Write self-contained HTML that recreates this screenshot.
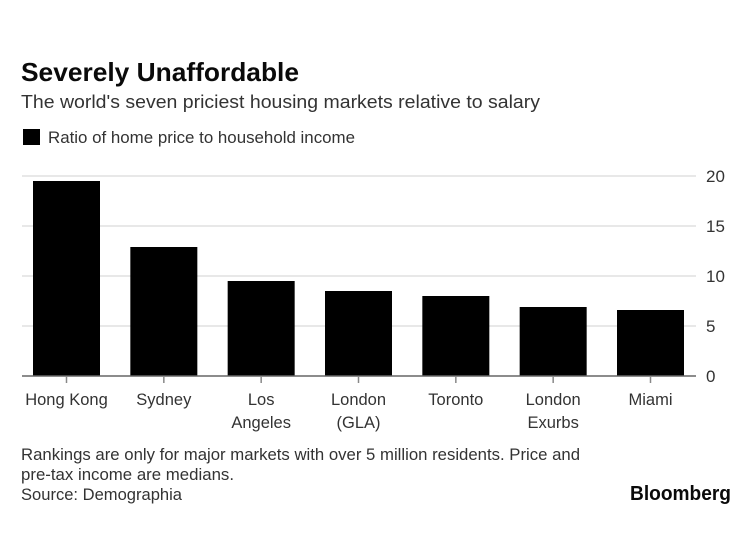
<!DOCTYPE html>
<html>
<head>
<meta charset="utf-8">
<style>
html,body{margin:0;padding:0;background:#fff;width:750px;height:559px;overflow:hidden}
svg{display:block;font-family:"Liberation Sans",sans-serif}
text{fill:#333}
</style>
</head>
<body>
<svg id="chart" width="750" height="559" viewBox="0 0 750 559" xmlns="http://www.w3.org/2000/svg">
  <rect width="750" height="559" fill="#fff"/>
  <text x="21" y="81" font-size="26" font-weight="bold" style="fill:#0a0a0a" textLength="278" lengthAdjust="spacingAndGlyphs">Severely Unaffordable</text>
  <text x="21" y="108" font-size="18.5" textLength="519" lengthAdjust="spacingAndGlyphs">The world's seven priciest housing markets relative to salary</text>
  <rect x="23" y="129" width="17" height="16" fill="#000"/>
  <text x="48" y="143" font-size="16.5" textLength="307" lengthAdjust="spacingAndGlyphs">Ratio of home price to household income</text>
  <g id="grid"></g>
  <g id="bars"></g>
  <g id="axis"></g>
  <text x="21" y="460" font-size="16.5" textLength="559" lengthAdjust="spacingAndGlyphs">Rankings are only for major markets with over 5 million residents. Price and</text>
  <text x="21" y="480" font-size="16.5" textLength="213" lengthAdjust="spacingAndGlyphs">pre-tax income are medians.</text>
  <text x="21" y="500" font-size="16.5" textLength="161" lengthAdjust="spacingAndGlyphs">Source: Demographia</text>
  <text x="630" y="500" font-size="20" font-weight="bold" style="fill:#0a0a0a" textLength="101" lengthAdjust="spacingAndGlyphs">Bloomberg</text>
</svg>
<script>
const categories = [["Hong Kong"], ["Sydney"], ["Los", "Angeles"], ["London", "(GLA)"], ["Toronto"], ["London", "Exurbs"], ["Miami"]];
const ratioValues = [19.5, 12.9, 9.5, 8.5, 8.0, 6.9, 6.6];
const yTicks = [0, 5, 10, 15, 20];

const NS = 'http://www.w3.org/2000/svg';
const plotLeft = 22, plotRight = 696, yBase = 376, yTop = 176;
const firstCenter = 66.5, lastCenter = 650.5, barWidth = 67;
const yScale = v => yBase - (v / 20) * (yBase - yTop);
const xScale = i => firstCenter + i * (lastCenter - firstCenter) / (categories.length - 1);

function make(tag, attrs, parent, text) {
  const el = document.createElementNS(NS, tag);
  for (const k in attrs) el.setAttribute(k, attrs[k]);
  if (text !== undefined) el.textContent = text;
  parent.appendChild(el);
  return el;
}

const grid = document.getElementById('grid');
const bars = document.getElementById('bars');
const axis = document.getElementById('axis');

yTicks.forEach(t => {
  if (t !== 0) {
    const line = make('line', {x1: plotLeft, x2: plotRight, y1: yScale(t), y2: yScale(t), stroke: '#e8e8e8', 'stroke-width': 2}, grid);
    
    
  }
  const label = make('text', {x: 706, y: yScale(t) + 6, 'font-size': 17}, axis, String(t));
  
  
});

ratioValues.forEach((v, i) => {
  const bar = make('rect', {x: xScale(i) - barWidth / 2, y: yScale(v), width: barWidth, height: yBase - yScale(v), fill: '#000'}, bars);
  
  
});

const baseline = make('line', {x1: plotLeft, x2: plotRight, y1: yBase, y2: yBase, stroke: '#666', 'stroke-width': 1.5}, axis);



categories.forEach((lines, i) => {
  const tick = make('line', {x1: xScale(i), x2: xScale(i), y1: yBase, y2: yBase + 7, stroke: '#888', 'stroke-width': 1.5}, axis);
  
  
  lines.forEach((s, j) => {
    const label = make('text', {x: xScale(i), y: 405 + j * 23, 'font-size': 16.5, 'text-anchor': 'middle'}, axis, s);
    
    
  });
});
</script>
</body>
</html>
